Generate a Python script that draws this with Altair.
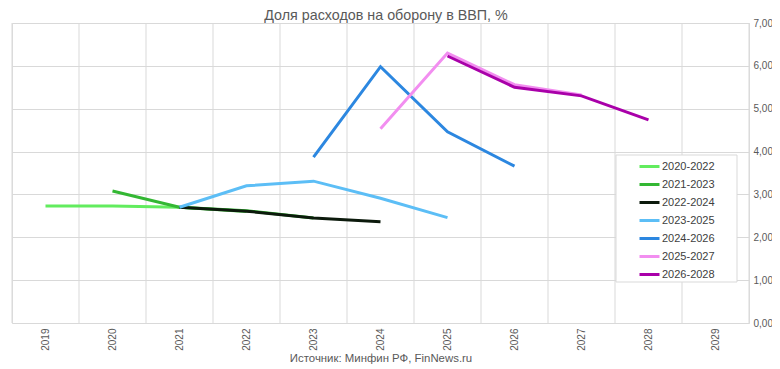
import altair as alt
import pandas as pd

years = [2019, 2020, 2021, 2022, 2023, 2024, 2025, 2026, 2027, 2028, 2029]
series_names = ["2020-2022", "2021-2023", "2022-2024", "2023-2025",
                "2024-2026", "2025-2027", "2026-2028"]
colors = ["#62EC5E", "#33B733", "#0C1A0C", "#5CBEF6", "#2C87E0", "#F28EF0", "#A900A9"]
title_text = "Доля расходов на оборону в ВВП, %"
source_text = "Источник: Минфин РФ, FinNews.ru"

# values per series, aligned to `years` (None = no value)
s2020_2022 = [2.73, 2.73, 2.70, 2.60, None, None, None, None, None, None, None]
s2021_2023 = [None, 3.08, 2.70, 2.62, 2.45, None, None, None, None, None, None]
s2022_2024 = [None, None, 2.70, 2.61, 2.45, 2.36, None, None, None, None, None]
s2023_2025 = [None, None, 2.70, 3.20, 3.31, 2.91, 2.46, None, None, None, None]
s2024_2026 = [None, None, None, None, 3.87, 5.98, 4.46, 3.66, None, None, None]
s2025_2027 = [None, None, None, None, None, 4.53, 6.30, 5.56, 5.32, None, None]
s2026_2028 = [None, None, None, None, None, None, 6.23, 5.50, 5.30, 4.74, None]

all_series = [s2020_2022, s2021_2023, s2022_2024, s2023_2025,
              s2024_2026, s2025_2027, s2026_2028]

rows = []
for name, vals in zip(series_names, all_series):
    for y, v in zip(years, vals):
        if v is not None:
            rows.append({"year": y, "value": v, "series": name})
df = pd.DataFrame(rows)

boundaries = [y - 0.5 for y in years] + [years[-1] + 0.5]
grid_df = pd.DataFrame({"b": boundaries})

FONT = "Liberation Sans"
GRAY = "#595959"
GRID = "#d9d9d9"

xscale = alt.Scale(domain=[years[0] - 0.5, years[-1] + 0.5], nice=False, zero=False)
xaxis = alt.Axis(values=years, format="d", labelAngle=270,
                 labelAlign="right", labelBaseline="middle",
                 labelPadding=5, labelFontSize=10, labelColor=GRAY,
                 labelFont=FONT, ticks=False, domain=False, grid=False,
                 title=source_text,
                 titleFont=FONT, titleFontSize=11.4, titleFontWeight="normal",
                 titleColor=GRAY, titleY=35, titleBaseline="middle")
yscale = alt.Scale(domain=[0, 7], nice=False)
yaxis = alt.Axis(orient="right", values=[0, 1, 2, 3, 4, 5, 6, 7],
                 labelExpr="replace(format(datum.value, '.2f'), '.', ',')",
                 labelFontSize=10, labelColor=GRAY, labelFont=FONT,
                 labelPadding=4, ticks=False, domain=False,
                 grid=True, gridColor=GRID, title=None)

vgrid = alt.Chart(grid_df).mark_rule(color=GRID, strokeWidth=1).encode(
    x=alt.X("b:Q", scale=xscale, axis=xaxis)
)

lines = alt.Chart(df).mark_line(strokeWidth=3).encode(
    x=alt.X("year:Q", scale=xscale, axis=xaxis),
    y=alt.Y("value:Q", scale=yscale, axis=yaxis),
    color=alt.Color("series:N",
                    scale=alt.Scale(domain=series_names, range=colors),
                    legend=alt.Legend(orient="none", legendX=604, legendY=132,
                                      title=None, symbolType="stroke",
                                      symbolStrokeWidth=3, symbolSize=400,
                                      symbolOffset=22, padding=0,
                                      labelFont=FONT, labelFontSize=11,
                                      labelColor="#404040", labelOffset=1,
                                      rowPadding=-2)),
    order=alt.Order("year:Q"),
)

# legend frame (white box behind the legend entries)
frame = alt.Chart(pd.DataFrame({"k": [0]})).mark_rect(
    fill="white", stroke=GRID, strokeWidth=1
).encode(x=alt.value(604), x2=alt.value(725), y=alt.value(132), y2=alt.value(259))

title = alt.Chart(pd.DataFrame({"t": [title_text]})).mark_text(
    font=FONT, fontSize=14.3, color=GRAY, align="center", baseline="alphabetic"
).encode(text="t:N", x=alt.value(374), y=alt.value(-3))

chart = alt.layer(vgrid, lines, frame, title).properties(
    width=737, height=300,
    autosize=alt.AutoSizeParams(type="none"),
    padding={"left": 4, "top": 15, "right": 23, "bottom": 46},
).configure_view(stroke="#d0d0d0", strokeWidth=1).configure(background="white")

chart.save("out.html", embed_options={"renderer": "svg", "actions": False})
